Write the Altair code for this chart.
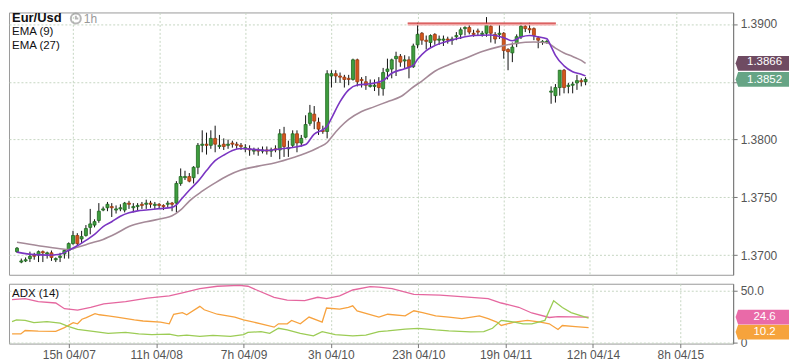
import altair as alt
import pandas as pd
import numpy as np

FONT = "Liberation Sans"

# ---------------- candle data (hourly bars, index 0 = 2h 04/07) ----------------
opens = [1.3703,1.3694,1.3695,1.3697,1.3700,1.3700,1.3703,1.3701,1.3702,1.3696,
         1.3698,1.3701,1.3704,1.3710,1.3717,1.3714,1.3717,1.3724,1.3726,1.3730,
         1.3739,1.3741,1.3742,1.3739,1.3740,1.3739,1.3745,1.3741,1.3742,1.3744,
         1.3744,1.3745,1.3743,1.3744,1.3743,1.3744,1.3745,1.3745,1.3762,1.3767,
         1.3768,1.3767,1.3776,1.3795,1.3796,1.3795,1.3801,1.3794,1.3796,1.3795,
         1.3797,1.3796,1.3795,1.3792,1.3792,1.3790,1.3791,1.3790,1.3791,1.3790,
         1.3792,1.3791,1.3805,1.3792,1.3795,1.3805,1.3797,1.3802,1.3814,1.3822,
         1.3815,1.3808,1.3807,1.3855,1.3857,1.3855,1.3854,1.3853,1.3852,1.3869,
         1.3852,1.3850,1.3846,1.3846,1.3849,1.3844,1.3859,1.3861,1.3870,1.3872,
         1.3868,1.3869,1.3863,1.3882,1.3892,1.3886,1.3884,1.3891,1.3886,1.3886,
         1.3887,1.3886,1.3889,1.3891,1.3896,1.3897,1.3892,1.3894,1.3891,1.3892,
         1.3898,1.3891,1.3891,1.3892,1.3878,1.3875,1.3883,1.3889,1.3898,1.3896,
         1.3896,1.3888,1.3884,1.3884,1.3841,1.3838,1.3845,1.3860,1.3846,1.3847,
         1.3849,1.3851,1.3850]
highs = [1.3707,1.3697,1.3698,1.3703,1.3702,1.3704,1.3704,1.3703,1.3704,1.3698,
         1.3702,1.3705,1.3711,1.3721,1.3719,1.3721,1.3726,1.3740,1.3731,1.3745,
         1.3742,1.3746,1.3745,1.3743,1.3744,1.3746,1.3747,1.3745,1.3745,1.3746,
         1.3748,1.3747,1.3746,1.3745,1.3744,1.3747,1.3746,1.3764,1.3775,1.3773,
         1.3771,1.3777,1.3797,1.3808,1.3806,1.3808,1.3812,1.3804,1.3801,1.3800,
         1.3799,1.3798,1.3797,1.3796,1.3795,1.3793,1.3793,1.3794,1.3794,1.3793,
         1.3795,1.3809,1.3811,1.3799,1.3808,1.3808,1.3804,1.3821,1.3830,1.3829,
         1.3819,1.3812,1.3860,1.3860,1.3860,1.3858,1.3856,1.3856,1.3870,1.3870,
         1.3854,1.3855,1.3852,1.3852,1.3854,1.3862,1.3870,1.3870,1.3876,1.3874,
         1.3873,1.3872,1.3883,1.3901,1.3893,1.3890,1.3891,1.3892,1.3890,1.3890,
         1.3889,1.3889,1.3893,1.3897,1.3898,1.3899,1.3895,1.3896,1.3894,1.3906,
         1.3900,1.3893,1.3900,1.3893,1.3879,1.3884,1.3891,1.3901,1.3900,1.3901,
         1.3897,1.3889,1.3886,1.3886,1.3846,1.3848,1.3860,1.3861,1.3849,1.3850,
         1.3856,1.3853,1.3854]
lows = [1.3702,1.3693,1.3694,1.3694,1.3696,1.3694,1.3694,1.3697,1.3695,1.3694,
        1.3694,1.3697,1.3697,1.3709,1.3708,1.3710,1.3716,1.3718,1.3724,1.3728,
        1.3738,1.3738,1.3733,1.3736,1.3738,1.3737,1.3740,1.3737,1.3739,1.3740,
        1.3740,1.3741,1.3740,1.3740,1.3739,1.3741,1.3738,1.3737,1.3760,1.3765,
        1.3763,1.3762,1.3770,1.3789,1.3787,1.3792,1.3789,1.3792,1.3791,1.3792,
        1.3793,1.3792,1.3791,1.3789,1.3786,1.3787,1.3786,1.3788,1.3787,1.3785,
        1.3789,1.3783,1.3785,1.3785,1.3793,1.3789,1.3794,1.3801,1.3812,1.3809,
        1.3804,1.3805,1.3801,1.3845,1.3849,1.3849,1.3845,1.3847,1.3851,1.3846,
        1.3845,1.3843,1.3845,1.3842,1.3838,1.3838,1.3852,1.3853,1.3855,1.3863,
        1.3862,1.3853,1.3862,1.3879,1.3882,1.3878,1.3880,1.3882,1.3882,1.3881,
        1.3883,1.3882,1.3886,1.3887,1.3890,1.3891,1.3889,1.3890,1.3889,1.3889,
        1.3884,1.3883,1.3887,1.3870,1.3860,1.3867,1.3880,1.3887,1.3893,1.3892,
        1.3886,1.3879,1.3882,1.3883,1.3831,1.3832,1.3838,1.3840,1.3840,1.3840,
        1.3843,1.3846,1.3847]
closes = [1.3706,1.3695,1.3696,1.3699,1.3699,1.3703,1.3702,1.3702,1.3698,1.3697,
          1.3699,1.3704,1.3710,1.3717,1.3710,1.3716,1.3723,1.3727,1.3729,1.3738,
          1.3740,1.3744,1.3741,1.3740,1.3741,1.3745,1.3744,1.3742,1.3743,1.3743,
          1.3745,1.3744,1.3744,1.3743,1.3742,1.3745,1.3744,1.3762,1.3768,1.3768,
          1.3764,1.3776,1.3795,1.3796,1.3795,1.3801,1.3796,1.3795,1.3794,1.3796,
          1.3796,1.3795,1.3794,1.3793,1.3791,1.3791,1.3790,1.3791,1.3790,1.3791,
          1.3791,1.3805,1.3794,1.3793,1.3805,1.3797,1.3801,1.3813,1.3823,1.3816,
          1.3809,1.3807,1.3857,1.3857,1.3855,1.3854,1.3852,1.3852,1.3869,1.3850,
          1.3851,1.3847,1.3847,1.3847,1.3845,1.3858,1.3861,1.3869,1.3872,1.3867,
          1.3869,1.3863,1.3881,1.3891,1.3886,1.3885,1.3890,1.3886,1.3887,1.3887,
          1.3886,1.3887,1.3890,1.3895,1.3897,1.3893,1.3891,1.3893,1.3892,1.3899,
          1.3892,1.3887,1.3892,1.3877,1.3876,1.3880,1.3889,1.3898,1.3896,1.3895,
          1.3890,1.3886,1.3885,1.3885,1.3842,1.3845,1.3860,1.3845,1.3847,1.3848,
          1.3851,1.3850,1.3852]

# ---------------- EMA readings (bar index, price) ----------------
ema9_idx = [0,4,7,10,12,14,16,18,20,22,24,26,28,30,33,36,37,38,40,42,44,46,48,50,
            52,55,58,61,64,67,69,71,72,73,75,77,79,82,85,87,90,92,93,95,97,100,103,
            106,110,113,115,117,119,121,123,124,125,127,129,131,132]
ema9_val = [1.37026,1.37004,1.37000,1.37008,1.37042,1.37081,1.37128,1.37179,1.37247,
            1.37289,1.37336,1.37366,1.37383,1.37391,1.37402,1.37413,1.37434,1.37477,
            1.37562,1.37638,1.37732,1.37817,1.37865,1.37906,1.37922,1.37915,1.37906,
            1.37919,1.37932,1.37957,1.38047,1.38085,1.38115,1.38183,1.38328,1.38430,
            1.38472,1.38483,1.38511,1.38574,1.38613,1.38643,1.38694,1.38770,1.38813,
            1.38851,1.38881,1.38900,1.38905,1.38881,1.38855,1.38887,1.38900,1.38889,
            1.38872,1.38804,1.38728,1.38638,1.38587,1.38566,1.38551]
ema27_idx = [0,5,10,12,14,17,20,23,26,30,34,36,38,40,43,46,49,52,56,60,64,67,70,72,
             73,75,77,80,83,86,89,92,94,97,100,104,108,112,116,120,123,125,127,129,
             131,132]
ema27_val = [1.37111,1.37081,1.37055,1.37048,1.37068,1.37102,1.37136,1.37187,1.37247,
             1.37289,1.37319,1.37340,1.37391,1.37468,1.37553,1.37625,1.37689,1.37736,
             1.37770,1.37800,1.37843,1.37881,1.37932,1.37974,1.38021,1.38106,1.38174,
             1.38243,1.38285,1.38328,1.38370,1.38455,1.38506,1.38591,1.38643,1.38702,
             1.38762,1.38804,1.38834,1.38844,1.38838,1.38791,1.38749,1.38719,1.38685,
             1.38660]

# resistance line (bar index start/end, price)
res_start = [90.7]
res_end = [125.1]
res_price = [1.39008]

# ---------------- ADX(14) readings ----------------
adx_idx = [0,3,6,10,12,15,18,21,26,31,36,39,43,47,52,54,56,60,63,67,70,72,75,78,82,
           84,87,92,98,102,109,112,116,119,123,125,128,132]
adx_val = [41.4,42.3,39.5,38.1,32.6,31.2,34.0,37.3,39.5,42.8,45.0,47.8,51.9,54.2,55.0,
           54.2,50.6,43.6,40.9,40.3,43.6,42.3,45.0,50.6,53.9,53.3,51.9,46.4,45.6,44.5,
           42.3,38.1,34.0,28.5,24.2,25.0,24.8,24.6]
di_o_idx = [0,2,3,6,10,12,14,15,16,17,19,20,22,24,28,30,34,36,37,39,40,43,44,47,51,53,
            57,60,61,63,64,66,68,71,72,75,77,78,79,84,86,90,92,94,97,100,103,107,109,
            111,112,115,118,121,123,125,126,129,132]
di_o_val = [8.4,8.4,11.7,11.1,10.9,14.4,19.2,18.1,22.5,24.1,27.9,26.8,25.7,24.6,21.9,
            20.8,19.8,18.1,27.3,28.9,26.8,34.9,31.6,27.3,24.6,21.9,18.1,14.9,18.1,18.1,
            21.4,18.1,24.6,19.8,33.3,32.2,33.8,35.4,30.6,24.6,27.3,25.7,30.6,28.9,25.7,
            24.6,23.0,25.7,23.0,19.8,16.5,19.8,21.4,19.8,18.1,12.7,16.5,15.4,14.4]
di_g_idx = [0,1,3,5,8,11,13,15,19,22,26,29,32,36,38,40,43,46,50,53,54,57,59,61,63,66,
            69,71,74,78,81,84,86,90,93,97,100,105,108,110,112,115,117,119,122,124,126,
            128,132]
di_g_val = [20.3,21.9,21.4,19.2,20.3,18.7,15.4,12.7,10.6,9.0,9.8,8.4,7.7,8.2,6.6,
            7.3,6.0,7.0,6.0,7.7,9.8,10.6,9.0,13.8,12.2,9.0,6.6,10.6,7.7,6.6,7.3,
            10.6,11.3,13.1,13.8,12.2,11.3,10.4,10.6,13.8,21.4,19.8,18.1,18.1,21.4,40.3,
            33.8,28.9,23.5]

# axis ticks
tick_idx = [13, 33, 53, 73, 93, 113, 133, 153]
tick_labels = ["15h 04/07", "11h 04/08", "7h 04/09", "3h 04/10",
               "23h 04/10", "19h 04/11", "12h 04/14", "8h 04/15"]
price_ticks = [1.37, 1.375, 1.38, 1.385, 1.39]

# right-hand value tags
main_tag_vals = [1.3866, 1.3852]
main_tag_text = ["1.3866", "1.3852"]
main_tag_cols = ["#6f4b62", "#66a485"]
adx_tag_vals = [10.2, 24.6]
adx_tag_text = ["10.2", "24.6"]
adx_tag_cols = ["#f6a33c", "#e96aa8"]

# ---------------- layout ----------------
W, H, HA = 726, 263, 60
XDOM = [-0.7, 165.1]
YDOM = [1.3683, 1.3910]
ADOM = [-0.9, 56.6]
GRID = "#c6d6c2"
UP_FILL, UP_STROKE = "#3f9d3f", "#1f6a1f"
DN_FILL, DN_STROKE = "#d4561c", "#9c3a10"
TAG_SHAPE = "M-1,-0.29 L1,-0.29 L1,0.29 L-1,0.29 L-1.1,0 Z"
TAG_X = 756.5

candles = pd.DataFrame({"i": list(range(len(opens))), "open": opens, "high": highs,
                        "low": lows, "close": closes})
candles["dir"] = np.where(candles["close"] >= candles["open"], "up", "down")

xs = alt.Scale(domain=XDOM, nice=False, zero=False)
ys = alt.Scale(domain=YDOM, nice=False, zero=False)
ascale = alt.Scale(domain=ADOM, nice=False, zero=False)

x_main_axis = alt.Axis(values=tick_idx, labels=False, ticks=False, domain=False,
                       grid=True, gridColor=GRID, gridDash=[2, 2], title=None)
# the 1.3850 label sits under the price tags, so it is left blank (its grid line stays)
y_main_axis = alt.Axis(orient="right", values=price_ticks,
                       labelExpr="abs(datum.value - 1.385) < 0.00001 ? '' : format(datum.value, '.4f')",
                       grid=True, gridColor=GRID, gridDash=[2, 2], tickSize=4, tickColor="#777",
                       domainColor="#777", labelColor="#555", labelFontSize=12,
                       labelPadding=3, title=None)

base = alt.Chart(candles)
wicks = base.mark_rule(color="#111", strokeWidth=1).encode(
    x=alt.X("i:Q", scale=xs, axis=x_main_axis),
    y=alt.Y("low:Q", scale=ys, axis=y_main_axis),
    y2="high:Q")
bodies = base.mark_bar(size=3, strokeWidth=0.8).encode(
    x=alt.X("i:Q", scale=xs),
    y=alt.Y("open:Q", scale=ys),
    y2="close:Q",
    color=alt.Color("dir:N", scale=alt.Scale(domain=["up", "down"], range=[UP_FILL, DN_FILL]), legend=None),
    stroke=alt.Stroke("dir:N", scale=alt.Scale(domain=["up", "down"], range=[UP_STROKE, DN_STROKE]), legend=None))

ema27 = alt.Chart(pd.DataFrame({"i": ema27_idx, "v": ema27_val})).mark_line(
    color="#a58a98", strokeWidth=1.6, interpolate="monotone").encode(
    x=alt.X("i:Q", scale=xs), y=alt.Y("v:Q", scale=ys))
ema9 = alt.Chart(pd.DataFrame({"i": ema9_idx, "v": ema9_val})).mark_line(
    color="#7a35c2", strokeWidth=1.6, interpolate="monotone").encode(
    x=alt.X("i:Q", scale=xs), y=alt.Y("v:Q", scale=ys))

res_df = pd.DataFrame({"a": res_start, "b": res_end, "p": res_price})
res1 = alt.Chart(res_df).mark_rule(color="#f2a6a6", strokeWidth=2).transform_calculate(
    q="datum.p - 0.00012").encode(x=alt.X("a:Q", scale=xs), x2="b:Q", y=alt.Y("q:Q", scale=ys))
res2 = alt.Chart(res_df).mark_rule(color="#d23c3c", strokeWidth=1.2).encode(
    x=alt.X("a:Q", scale=xs), x2="b:Q", y=alt.Y("p:Q", scale=ys))

def label(txt, x, y, size=12, weight="normal", color="#111"):
    return alt.Chart(pd.DataFrame({"t": [txt]})).mark_text(
        align="left", baseline="middle", font=FONT, fontSize=size,
        fontWeight=weight, color=color).encode(
        x=alt.value(x), y=alt.value(y), text="t:N")

title_t = label("Eur/Usd", 3, 6, size=13, weight="bold")
clock = alt.Chart(pd.DataFrame({"t": ["clock"]})).mark_point(
    shape="M0,-1 A1,1 0 1,1 0,1 A1,1 0 1,1 0,-1 M0,-0.55 L0,0 L0.5,0",
    filled=False, stroke="#9a9a9a", strokeWidth=2, size=100).encode(
    x=alt.value(67), y=alt.value(6))
tf_t = label("1h", 75, 7, size=12, color="#999")
ema9_t = label("EMA (9)", 3, 20, size=11.5)
ema27_t = label("EMA (27)", 3, 34, size=11.5)

def main_tag(k, dy):
    df = pd.DataFrame({"v": [main_tag_vals[k]], "t": [main_tag_text[k]], "c": [main_tag_cols[k]]})
    box = alt.Chart(df).mark_point(shape=TAG_SHAPE, filled=True, opacity=1,
                                   size=2601, strokeWidth=0).encode(
        x=alt.value(TAG_X), y=alt.Y("v:Q", scale=ys), color=alt.Color("c:N", scale=None))
    txt = alt.Chart(df).mark_text(font=FONT, fontSize=11.5, color="white", dy=dy,
                                  align="center", baseline="middle").encode(
        x=alt.value(TAG_X + 1), y=alt.Y("v:Q", scale=ys), text="t:N")
    return [box, txt]

main = alt.layer(wicks, bodies, ema27, ema9, res1, res2, title_t, clock, tf_t,
                 ema9_t, ema27_t, *main_tag(0, -1), *main_tag(1, 1)).properties(width=W, height=H)

# ---------------- ADX panel ----------------
label_expr = "[" + ",".join("'%s'" % s for s in tick_labels) + "][round((datum.value-13)/20)]"
x_adx_axis = alt.Axis(values=tick_idx, labelExpr=label_expr, grid=True, gridColor=GRID,
                      gridDash=[2, 2], domain=False, tickSize=4, tickColor="#777",
                      labelColor="#555", labelFontSize=12, labelPadding=2, title=None)
y_adx_axis = alt.Axis(orient="right", values=[0, 50],
                      labelExpr="datum.value == 0 ? '0' : format(datum.value, '.1f')",
                      grid=True, gridColor=GRID, gridDash=[2, 2], tickSize=4,
                      tickColor="#777", domainColor="#777", labelColor="#555",
                      labelFontSize=12, labelPadding=3, title=None)

adx_line = alt.Chart(pd.DataFrame({"i": adx_idx, "v": adx_val})).mark_line(
    color="#e5679f", strokeWidth=1.3).encode(
    x=alt.X("i:Q", scale=xs, axis=x_adx_axis), y=alt.Y("v:Q", scale=ascale, axis=y_adx_axis))
di_o = alt.Chart(pd.DataFrame({"i": di_o_idx, "v": di_o_val})).mark_line(
    color="#f7a23e", strokeWidth=1.3).encode(
    x=alt.X("i:Q", scale=xs), y=alt.Y("v:Q", scale=ascale))
di_g = alt.Chart(pd.DataFrame({"i": di_g_idx, "v": di_g_val})).mark_line(
    color="#9ccc55", strokeWidth=1.3).encode(
    x=alt.X("i:Q", scale=xs), y=alt.Y("v:Q", scale=ascale))
adx_t = label("ADX (14)", 3, 10, size=11.5)

atags = pd.DataFrame({"v": adx_tag_vals, "t": adx_tag_text, "c": adx_tag_cols})
atag_lo = atags.iloc[[0]]
atag_hi = atags.iloc[[1]]

def tag_layers(df):
    box = alt.Chart(df).mark_point(shape=TAG_SHAPE, filled=True, opacity=1,
                                   size=2601, strokeWidth=0).encode(
        x=alt.value(TAG_X), y=alt.Y("v:Q", scale=ascale), color=alt.Color("c:N", scale=None))
    txt = alt.Chart(df).mark_text(font=FONT, fontSize=11.5, color="white",
                                  align="center", baseline="middle").encode(
        x=alt.value(TAG_X + 1), y=alt.Y("v:Q", scale=ascale), text="t:N")
    return [box, txt]

adx = alt.layer(adx_line, di_o, di_g, adx_t, *tag_layers(atag_lo),
                *tag_layers(atag_hi)).properties(width=W, height=HA)

chart = alt.vconcat(main, adx, spacing=6).properties(
    padding={"left": 0, "top": 0, "right": 0, "bottom": 0}
).configure_view(stroke="#9a9a9a").configure_axis(
    labelFont=FONT).configure_text(font=FONT)

chart.save("out.html", embed_options={"renderer": "svg", "actions": False})
